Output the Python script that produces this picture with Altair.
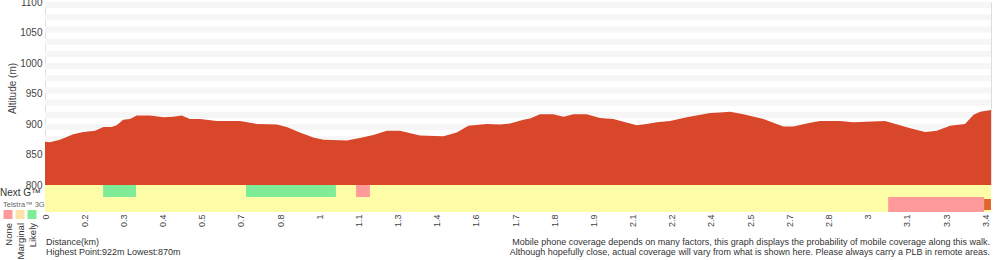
import altair as alt
import pandas as pd

# ---- data ----
dist_km = [0.000, 0.018, 0.054, 0.102, 0.139, 0.181, 0.211, 0.241, 0.259, 0.283,
           0.307, 0.332, 0.380, 0.428, 0.464, 0.494, 0.524, 0.561, 0.621, 0.705,
           0.766, 0.838, 0.874, 0.922, 0.970, 1.007, 1.091, 1.139, 1.187, 1.236,
           1.284, 1.356, 1.441, 1.489, 1.531, 1.598, 1.646, 1.682, 1.730, 1.754,
           1.790, 1.838, 1.875, 1.911, 1.959, 2.007, 2.055, 2.140, 2.176, 2.212,
           2.260, 2.321, 2.405, 2.441, 2.477, 2.526, 2.598, 2.670, 2.706, 2.767,
           2.803, 2.875, 2.923, 3.038, 3.129, 3.183, 3.225, 3.273, 3.327, 3.358,
           3.382, 3.421]
elev_m = [871, 870, 874, 883, 887, 889, 895, 895, 898, 907,
          908, 914, 914, 911, 912, 914, 908, 908, 905, 905,
          900, 899, 895, 886, 878, 874, 873, 877, 882, 889,
          889, 881, 880, 886, 897, 900, 899, 901, 907, 909,
          916, 916, 912, 916, 916, 910, 908, 898, 900, 903,
          905, 911, 918, 919, 920, 916, 908, 896, 896, 902,
          905, 905, 903, 905, 893, 887, 889, 897, 900, 915,
          920, 923]

tick_labels = ["0", "0.2", "0.3", "0.4", "0.5", "0.7", "0.8", "1", "1.1", "1.3",
               "1.4", "1.6", "1.7", "1.8", "1.9", "2.1", "2.2", "2.4", "2.5", "2.7",
               "2.8", "3", "3.1", "3.3", "3.4"]
last_tick_km = 3.4
x_max_km = 3.421
y_ticks = [800, 850, 900, 950, 1000, 1050, 1100]
stripe_lo = [810, 830, 850, 870, 890, 910, 930, 950, 970, 990, 1010, 1030, 1050, 1070, 1090]

# coverage segments
nextg_start = [0.210, 0.727, 1.125]
nextg_end = [0.329, 1.052, 1.175]
nextg_level = ["Likely", "Likely", "None"]
tel_start = [3.049]
tel_end = [3.396]
tel_level = ["None"]
end_start = [3.396]
end_end = [3.421]

legend_names = ["None", "Marginal", "Likely"]
legend_colors = ["#ff9a9a", "#ffe2a8", "#80ec98"]

RED = "#d9472a"
YELLOW = "#fffca8"

W, H = 946, 183
FONT = "Liberation Sans"

xscale = alt.Scale(domain=[0, x_max_km], nice=False, zero=False)
yscale = alt.Scale(domain=[800, 1100], nice=False, zero=False)

n = len(tick_labels)
tick_vals = [round(i * last_tick_km / (n - 1), 6) for i in range(n)]
label_js = "[" + ",".join("'" + t + "'" for t in tick_labels) + "]"
label_expr = f"{label_js}[round(datum.value*{n - 1}/{last_tick_km})]"

xaxis = alt.Axis(values=tick_vals, labelExpr=label_expr, labelAngle=270,
                 labelOverlap=False, labelBound=False, labelFlush=False,
                 domain=False, ticks=False, grid=False, offset=27,
                 labelFontSize=9, labelColor="#444", labelPadding=2,
                 title=None)
yaxis = alt.Axis(values=y_ticks, format="d", domain=False, ticks=False, grid=False,
                 labelOverlap=False, labelBound=False, labelFlush=False,
                 labelFontSize=10, labelColor="#444", labelPadding=3,
                 title="Altitude (m)", titleFontSize=10, titleFontWeight="normal",
                 titleColor="#444", titleX=-28, titleY=86)

prof = pd.DataFrame({"km": dist_km, "elev": elev_m})
stripes = pd.DataFrame({"lo": stripe_lo, "hi": [v + 10 for v in stripe_lo]})

stripe_layer = alt.Chart(stripes).mark_rect(color="#f6f6f6").encode(
    x=alt.value(0), x2=alt.value(W),
    y=alt.Y("lo:Q", scale=yscale, axis=yaxis),
    y2="hi:Q",
)

area_layer = alt.Chart(prof).mark_area(color=RED, opacity=1, interpolate="linear").encode(
    x=alt.X("km:Q", scale=xscale, axis=xaxis),
    y=alt.Y("elev:Q", scale=yscale, axis=yaxis),
    y2=alt.datum(800),
)

band = pd.DataFrame({"s": [0.0], "e": [x_max_km]})
band_layer = alt.Chart(band).mark_rect(color=YELLOW).encode(
    x=alt.X("s:Q", scale=xscale, axis=xaxis), x2="e:Q",
    y=alt.value(H), y2=alt.value(H + 27),
)

cscale = alt.Scale(domain=legend_names, range=legend_colors)
ng = pd.DataFrame({"s": nextg_start, "e": nextg_end, "lvl": nextg_level})
ng_layer = alt.Chart(ng).mark_rect().encode(
    x=alt.X("s:Q", scale=xscale, axis=xaxis), x2="e:Q",
    y=alt.value(H), y2=alt.value(H + 12),
    color=alt.Color("lvl:N", scale=cscale, legend=None),
)
tl = pd.DataFrame({"s": tel_start, "e": tel_end, "lvl": tel_level})
tl_layer = alt.Chart(tl).mark_rect().encode(
    x=alt.X("s:Q", scale=xscale, axis=xaxis), x2="e:Q",
    y=alt.value(H + 12), y2=alt.value(H + 27),
    color=alt.Color("lvl:N", scale=cscale, legend=None),
)
en = pd.DataFrame({"s": end_start, "e": end_end})
en_layer = alt.Chart(en).mark_rect(color="#e0662e").encode(
    x=alt.X("s:Q", scale=xscale, axis=xaxis), x2="e:Q",
    y=alt.value(H + 14), y2=alt.value(H + 25),
)


def text_layer(txt, x, y, size, color="#333", align="left", angle=0, baseline="alphabetic"):
    return alt.Chart(pd.DataFrame({"t": [txt]})).mark_text(
        align=align, baseline=baseline, fontSize=size, color=color, font=FONT, angle=angle
    ).encode(text="t:N", x=alt.value(x), y=alt.value(y))


layers = [stripe_layer, area_layer, band_layer, ng_layer, tl_layer, en_layer]
layers.append(text_layer("Next G\u2122", -45, 194, 10))
layers.append(text_layer("Telstra\u2122 3G", -42, 205, 7.5, color="#666"))

for i, (name, col) in enumerate(zip(legend_names, legend_colors)):
    cx = -37 + 12 * i
    sq = alt.Chart(pd.DataFrame({"n": [name]})).mark_rect(color=col).encode(
        x=alt.value(cx - 4.5), x2=alt.value(cx + 4.5),
        y=alt.value(208), y2=alt.value(217),
    )
    layers.append(sq)
    layers.append(text_layer(name, cx + 0.5, 221, 9.5, align="right", angle=270, baseline="middle"))

layers.append(text_layer("Distance(km)", 1, 243, 9))
layers.append(text_layer("Highest Point:922m Lowest:870m", 1, 252.5, 9))
layers.append(text_layer(
    "Mobile phone coverage depends on many factors, this graph displays the probability of mobile coverage along this walk.",
    945, 243, 9, align="right"))
layers.append(text_layer(
    "Although hopefully close, actual coverage will vary from what is shown here. Please always carry a PLB in remote areas.",
    945, 252.5, 9, align="right"))

chart = alt.layer(*layers).properties(
    width=W, height=H,
    autosize=alt.AutoSizeParams(type="none"),
    padding={"left": 45, "top": 2, "right": 9, "bottom": 75},
    background="white",
).configure_view(stroke=None).configure(font=FONT)

chart.save("out.html", embed_options={"renderer": "svg", "actions": False})
